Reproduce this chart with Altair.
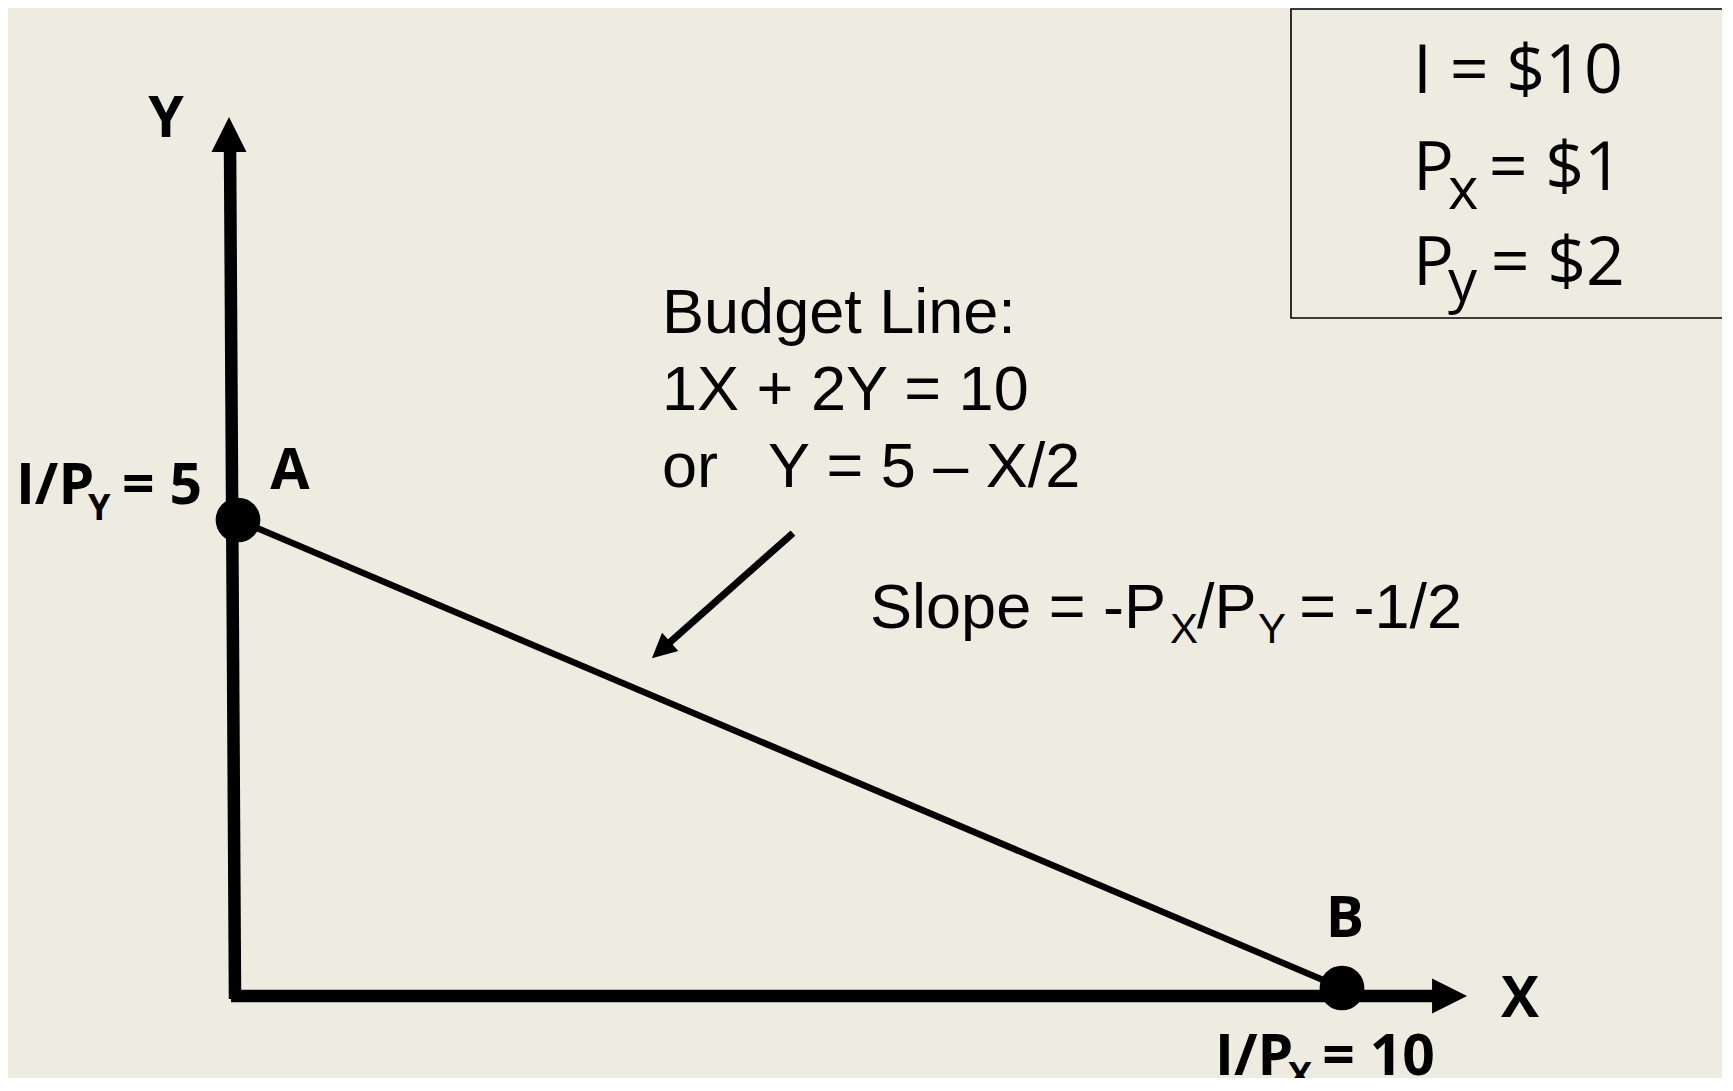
import altair as alt
import pandas as pd

# ---- chart values ----
income = 10
price_x = 1
price_y = 2
intercept_y = income / price_y      # 5
intercept_x = income / price_x      # 10
budget_x = [0, intercept_x]
budget_y = [intercept_y, 0]
point_names = ["A", "B"]

BG = "#EEECE1"
SANS = "Open Sans"
ARIAL = "Liberation Sans"

X_DOM = [-2.0833, 13.442]
Y_DOM = [-0.9615, 10.470]
W, H = 1714, 1070

xs = alt.Scale(domain=X_DOM, nice=False, zero=False)
ys = alt.Scale(domain=Y_DOM, nice=False, zero=False)


def X(f="x"):
    return alt.X(f"{f}:Q", scale=xs, axis=None)


def Y(f="y"):
    return alt.Y(f"{f}:Q", scale=ys, axis=None)


# budget line
budget_df = pd.DataFrame({"x": budget_x, "y": budget_y})
budget = alt.Chart(budget_df).mark_line(color="black", strokeWidth=6.5).encode(x=X(), y=Y())

# points A and B
pts_df = pd.DataFrame({"x": budget_x, "y": budget_y, "name": point_names})
dots = alt.Chart(pts_df).mark_circle(size=2000, color="black", opacity=1).encode(x=X(), y=Y())

# axes (drawn as rules in data space)
axes_df = pd.DataFrame({
    "x": [-0.027, -0.063],
    "y": [-0.118, -0.085],
    "x2": [-0.072, 10.851],
    "y2": [8.953, -0.085],
})
axes = alt.Chart(axes_df).mark_rule(color="black", strokeWidth=12.5, strokeCap="butt").encode(
    x=X(), y=Y(), x2="x2:Q", y2="y2:Q"
)

# arrowheads of the axes
up_df = pd.DataFrame({"x": [-0.0815], "y": [9.119]})
up_head = alt.Chart(up_df).mark_point(
    shape="M0,-1L1,1L-1,1Z", filled=True, size=1225, color="black", opacity=1, strokeWidth=0
).encode(x=X(), y=Y())
right_df = pd.DataFrame({"x": [10.974], "y": [-0.085]})
right_head = alt.Chart(right_df).mark_point(
    shape="M1,0L-1,-1L-1,1Z", filled=True, size=1225, color="black", opacity=1, strokeWidth=0
).encode(x=X(), y=Y())

# annotation arrow pointing to the budget line
ann_df = pd.DataFrame({"x": [5.027], "y": [4.861], "x2": [3.832], "y2": [3.611]})
ann_line = alt.Chart(ann_df).mark_rule(color="black", strokeWidth=7, strokeCap="butt").encode(
    x=X(), y=Y(), x2="x2:Q", y2="y2:Q"
)
ann_head_df = pd.DataFrame({"x": [3.832], "y": [3.611]})
ann_head = alt.Chart(ann_head_df).mark_point(
    shape="M0,-1L1,1L-1,1Z", filled=True, size=600, color="black", opacity=1, strokeWidth=0,
    angle=228.4
).encode(x=X(), y=Y())

# info box (its right side runs off the page, as in the original)
box_df = pd.DataFrame({"x": [9.538], "y": [10.459], "x2": [14.6], "y2": [7.158]})
box = alt.Chart(box_df).mark_rect(fill=BG, stroke="black", strokeWidth=1.6).encode(
    x=X(), y=Y(), x2="x2:Q", y2="y2:Q"
)


def texts(rows, **kw):
    df = pd.DataFrame(rows, columns=["x", "y", "t"])
    return alt.Chart(df).mark_text(color="black", baseline="alphabetic", **kw).encode(
        x=X(), y=Y(), text="t:N"
    )


box_main = texts([
    (10.643, 9.562, f"I = ${income}"),
    (10.643, 8.526, "P"),
    (10.643, 7.511, "P"),
], font=SANS, fontSize=68, align="left")
box_right = texts([
    (12.545, 8.526, f"= ${price_x}"),
    (12.563, 7.511, f"= ${price_y}"),
], font=SANS, fontSize=68, align="right")
box_sub = texts([
    (10.960, 8.323, "x"),
    (10.960, 7.340, "y"),
], font=SANS, fontSize=58, align="left")

budget_txt = texts([
    (3.841, 6.998, "Budget Line:"),
    (3.841, 6.175, f"{price_x}X + {price_y}Y = {income}"),
    (3.841, 5.353, "or"),
    (4.801, 5.353, f"Y = {intercept_y:g} \u2013 X/{price_y}"),
    (5.725, 3.846, "Slope = -P"),
    (8.687, 3.846, "/P"),
], font=ARIAL, fontSize=63, align="left")
budget_right = texts([
    (11.087, 3.846, f"= -{price_x}/{price_y}"),
], font=ARIAL, fontSize=63, align="right")
budget_sub = texts([
    (8.442, 3.686, "X"),
    (9.239, 3.686, "Y"),
], font=ARIAL, fontSize=42, align="left")

bold_center = texts([
    (-0.652, 9.092, "Y"),
    (0.471, 5.331, point_names[0]),
    (10.027, 0.545, point_names[1]),
    (11.612, -0.310, "X"),
], font=SANS, fontSize=57, fontWeight="bold", align="center")
bold_left = texts([
    (-2.011, 5.171, "I/P"),
    (8.850, -0.929, "I/P"),
], font=SANS, fontSize=57, fontWeight="bold", align="left")
bold_right = texts([
    (-0.326, 5.171, f"= {intercept_y:g}"),
    (10.842, -0.929, f"= {intercept_x:g}"),
], font=SANS, fontSize=57, fontWeight="bold", align="right")
bold_sub = texts([
    (-1.359, 5.0, "Y"),
    (9.511, -1.068, "X"),
], font=SANS, fontSize=36, fontWeight="bold", align="left")

chart = alt.layer(
    box, axes, up_head, right_head, budget, dots, ann_line, ann_head,
    box_main, box_right, box_sub, budget_txt, budget_right, budget_sub,
    bold_center, bold_left, bold_right, bold_sub,
).properties(
    width=W, height=H, background=BG, padding=0,
    autosize=alt.AutoSizeParams(type="none"),
).configure_view(stroke=None)

chart.save("out.html", embed_options={"renderer": "svg", "actions": False})
